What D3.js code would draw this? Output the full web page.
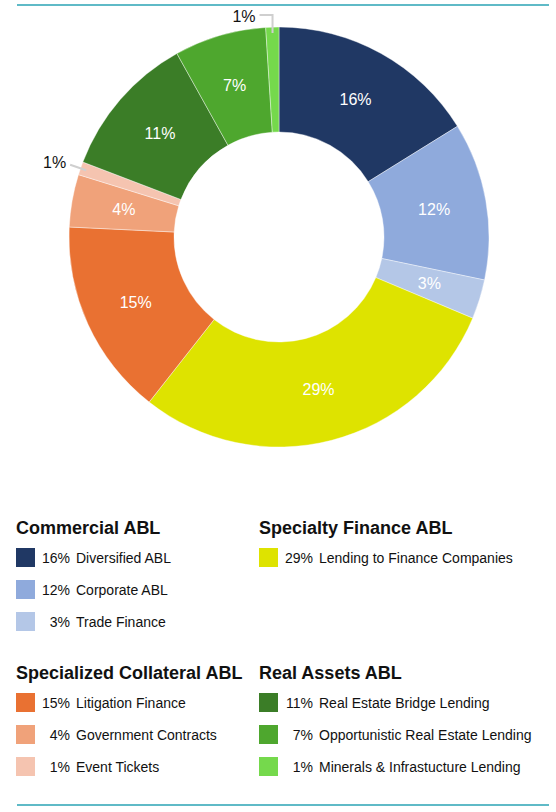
<!DOCTYPE html>
<html>
<head>
<meta charset="utf-8">
<script src="https://cdn.jsdelivr.net/npm/d3@7"></script>
<style>
  body { margin: 0; background: #fff; }
  svg { display: block; font-family: "Liberation Sans", Arial, Helvetica, sans-serif; }
</style>
</head>
<body>
<div id="container"></div>
<script>
const container = document.getElementById('container');

const w = 556;
const h = 812;

// datos
const labels = [
  "Diversified ABL", "Corporate ABL", "Trade Finance",
  "Lending to Finance Companies",
  "Litigation Finance", "Government Contracts", "Event Tickets",
  "Real Estate Bridge Lending", "Opportunistic Real Estate Lending", "Minerals & Infrastucture Lending"
];
const values = [16, 12, 3, 29, 15, 4, 1, 11, 7, 1];
const groupOf = [0, 0, 0, 1, 2, 2, 2, 3, 3, 3];
const groups = ["Commercial ABL", "Specialty Finance ABL", "Specialized Collateral ABL", "Real Assets ABL"];
const colors = [
  "#203864", "#8faadc", "#b4c7e7",
  "#dee300",
  "#e97132", "#f0a27a", "#f5c4b0",
  "#3b7d27", "#4ea72e", "#75d94c"
];

const data = labels.map((d, i) => ({ label: d, value: values[i], group: groupOf[i], color: colors[i] }));

const svg = d3.select(container)
    .append('svg')
    .attr('width', w)
    .attr('height', h);

// lineas de arriba y abajo
[5, 805].forEach(y => {
  svg.append('line')
      .attr('x1', 17).attr('x2', 549)
      .attr('y1', y).attr('y2', y)
      .attr('stroke', '#2aa3b5')
      .attr('stroke-width', 1.5);
});

const cx = 279;
const cy = 237;
const rOut = 210;
const rIn = 105;

const pie = d3.pie().sort(null).value(d => d.value);
const arc = d3.arc().innerRadius(rIn).outerRadius(rOut);
const arcs = pie(data);

const g = svg.append('g').attr('transform', `translate(${cx},${cy})`);

g.selectAll('path')
    .data(arcs)
    .enter()
    .append('path')
    .attr('d', arc)
    .attr('fill', d => d.data.color)
    .attr('stroke', '#fff')
    .attr('stroke-width', 0.4);

// etiquetas dentro del anillo
g.selectAll('text.inside')
    .data(arcs.filter(d => d.data.value >= 2))
    .enter()
    .append('text')
    .attr('class', 'inside')
    .attr('transform', d => `translate(${arc.centroid(d)})`)
    .attr('text-anchor', 'middle')
    .attr('dy', '0.35em')
    .attr('fill', '#fff')
    .attr('font-size', 16)
    .text(d => d.data.value + '%');

// etiquetas pequeñas fuera, con linea guia
const pt = (a, r) => [Math.sin(a) * r, -Math.cos(a) * r];

arcs.filter(d => d.data.value < 2).forEach(d => {
  const a = (d.startAngle + d.endAngle) / 2;
  const p1 = pt(a, 204);
  let pts, tx, ty;
  if (Math.abs(Math.sin(a)) < 0.35) {
    // cerca de arriba: codo
    const p2 = [p1[0], -222];
    const p3 = [p2[0] - 13, p2[1]];
    pts = [p1, p2, p3];
    tx = p3[0] - 4;
    ty = p3[1] + 7;
  } else {
    const p2 = pt(a, 221);
    pts = [p1, p2];
    tx = p2[0] - 4;
    ty = p2[1] + 3;
  }
  g.append('path')
      .attr('d', d3.line()(pts))
      .attr('fill', 'none')
      .attr('stroke', '#cfcfcf')
      .attr('stroke-width', 2);
  g.append('text')
      .attr('x', tx)
      .attr('y', ty)
      .attr('text-anchor', 'end')
      .attr('fill', '#111')
      .attr('font-size', 16)
      .text(d.data.value + '%');
});

// leyenda
const colX = [16, 259];
const rowY = [534, 679];

groups.forEach((name, gi) => {
  const x0 = colX[gi % 2];
  const y0 = rowY[Math.floor(gi / 2)];
  const leg = svg.append('g').attr('transform', `translate(${x0},${y0})`);

  leg.append('text')
      .attr('x', 0)
      .attr('y', 0)
      .attr('font-size', 18)
      .attr('font-weight', 'bold')
      .attr('fill', '#111')
      .text(name);

  const items = data.filter(d => d.group === gi);
  const row = leg.selectAll('g.item')
      .data(items)
      .enter()
      .append('g')
      .attr('class', 'item')
      .attr('transform', (d, i) => `translate(0,${14 + i * 32})`);

  row.append('rect')
      .attr('x', 0)
      .attr('y', 0)
      .attr('width', 19)
      .attr('height', 19)
      .attr('fill', d => d.color);

  row.append('text')
      .attr('x', 54)
      .attr('y', 15)
      .attr('text-anchor', 'end')
      .attr('font-size', 14)
      .attr('fill', '#111')
      .text(d => d.value + '%');

  row.append('text')
      .attr('x', 60)
      .attr('y', 15)
      .attr('font-size', 14)
      .attr('fill', '#111')
      .text(d => d.label);
});
</script>
</body>
</html>
